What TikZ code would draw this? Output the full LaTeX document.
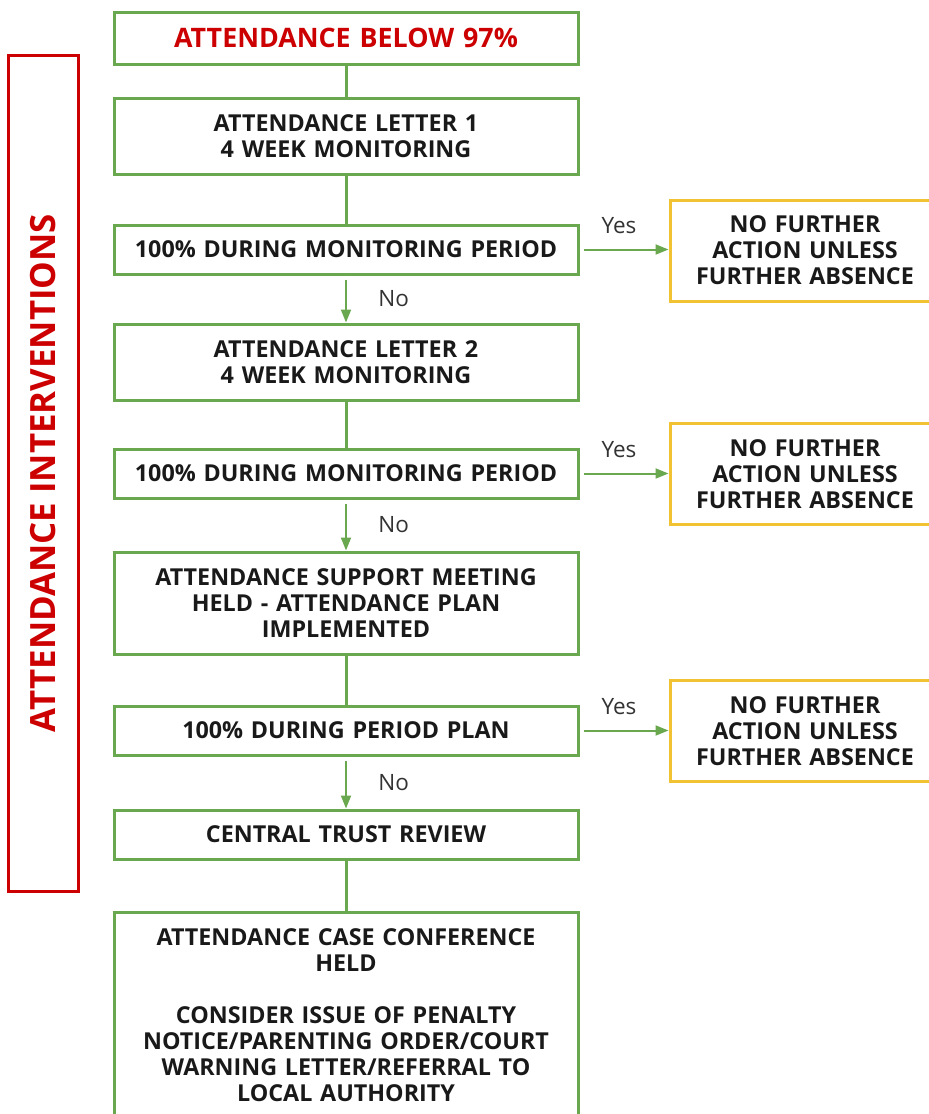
\documentclass[tikz,border=0pt]{standalone}
\usepackage{fontspec}
\setmainfont{Open Sans}
\usetikzlibrary{positioning,arrows.meta}
\definecolor{boxgreen}{HTML}{6AA84F}
\definecolor{boxred}{HTML}{CC0000}
\definecolor{boxyellow}{HTML}{F1C232}
\definecolor{labelgrey}{HTML}{333333}

\begin{document}
\begin{tikzpicture}[x=1pt,y=-1pt,
    flowbox/.style={draw=boxgreen, line width=3pt, fill=white, align=center,
        minimum width=464pt, text width=460pt, inner sep=0pt,
        font=\fontsize{23.3}{26}\selectfont\bfseries, text=black!90},
    outcome/.style={draw=boxyellow, line width=3pt, fill=white, align=center,
        minimum width=270pt, minimum height=101pt, text width=266pt, inner sep=0pt,
        font=\fontsize{23.3}{26}\selectfont\bfseries, text=black!90},
    plainlink/.style={draw=boxgreen, line width=3pt},
    choice/.style={draw=boxgreen, line width=2pt, -{Triangle[length=13pt,width=10pt]}},
    choicelabel/.style={font=\fontsize{22.5}{24}\selectfont, text=labelgrey}]
    \useasboundingbox (0,0) rectangle (929,1114);
    % side banner
    \node[draw=boxred, line width=3pt, rotate=90, minimum width=836pt, minimum height=70pt,
        inner sep=0pt, text=boxred, font=\fontsize{34.8}{38}\selectfont\bfseries]
        (side) at (43,473) {ATTENDANCE INTERVENTIONS};
    % main column
    \node[flowbox, minimum height=52pt, text=boxred, font=\fontsize{26.8}{30}\selectfont\bfseries] (below) at (346,38) {ATTENDANCE BELOW 97\%};
    \node[flowbox, minimum height=76pt] (letter1) at (346,136) {ATTENDANCE LETTER 1\\4 WEEK MONITORING};
    \node[flowbox, minimum height=49pt] (check1) at (346,249.5) {100\% DURING MONITORING PERIOD};
    \node[flowbox, minimum height=76pt] (letter2) at (346,362) {ATTENDANCE LETTER 2\\4 WEEK MONITORING};
    \node[flowbox, minimum height=49pt] (check2) at (346,473.5) {100\% DURING MONITORING PERIOD};
    \node[flowbox, minimum height=102pt] (meeting) at (346,603) {ATTENDANCE SUPPORT MEETING\\HELD - ATTENDANCE PLAN\\IMPLEMENTED};
    \node[flowbox, minimum height=49pt] (check3) at (346,730.5) {100\% DURING PERIOD PLAN};
    \node[flowbox, minimum height=49pt] (review) at (346,834.5) {CENTRAL TRUST REVIEW};
    \node[flowbox, minimum height=206pt] (conference) at (346,1015) {ATTENDANCE CASE CONFERENCE\\HELD\\[26pt]CONSIDER ISSUE OF PENALTY\\NOTICE/PARENTING ORDER/COURT\\WARNING LETTER/REFERRAL TO\\LOCAL AUTHORITY};
    % outcomes (cut off at the right edge)
    \node[outcome] (nfa1) at (805,250.5) {NO FURTHER\\ACTION UNLESS\\FURTHER ABSENCE};
    \node[outcome] (nfa2) at (805,474) {NO FURTHER\\ACTION UNLESS\\FURTHER ABSENCE};
    \node[outcome] (nfa3) at (805,731) {NO FURTHER\\ACTION UNLESS\\FURTHER ABSENCE};
    % links
    \draw[plainlink] (below) -- (letter1);
    \draw[plainlink] (letter1) -- (check1);
    \draw[plainlink] (letter2) -- (check2);
    \draw[plainlink] (meeting) -- (check3);
    \draw[plainlink] (review) -- (conference);
    \draw[choice, shorten <=4pt] (check1) -- node[choicelabel, right=28pt] {No} (letter2);
    \draw[choice, shorten <=4pt] (check2) -- node[choicelabel, right=28pt] {No} (meeting);
    \draw[choice, shorten <=4pt] (check3) -- node[choicelabel, right=28pt] {No} (review);
    \draw[choice, shorten <=4pt] (check1.east) -- node[choicelabel, above=11pt, xshift=-5pt] {Yes} (nfa1.west |- check1.east);
    \draw[choice, shorten <=4pt] (check2.east) -- node[choicelabel, above=11pt, xshift=-5pt] {Yes} (nfa2.west |- check2.east);
    \draw[choice, shorten <=4pt] (check3.east) -- node[choicelabel, above=11pt, xshift=-5pt] {Yes} (nfa3.west |- check3.east);
\end{tikzpicture}
\end{document}
